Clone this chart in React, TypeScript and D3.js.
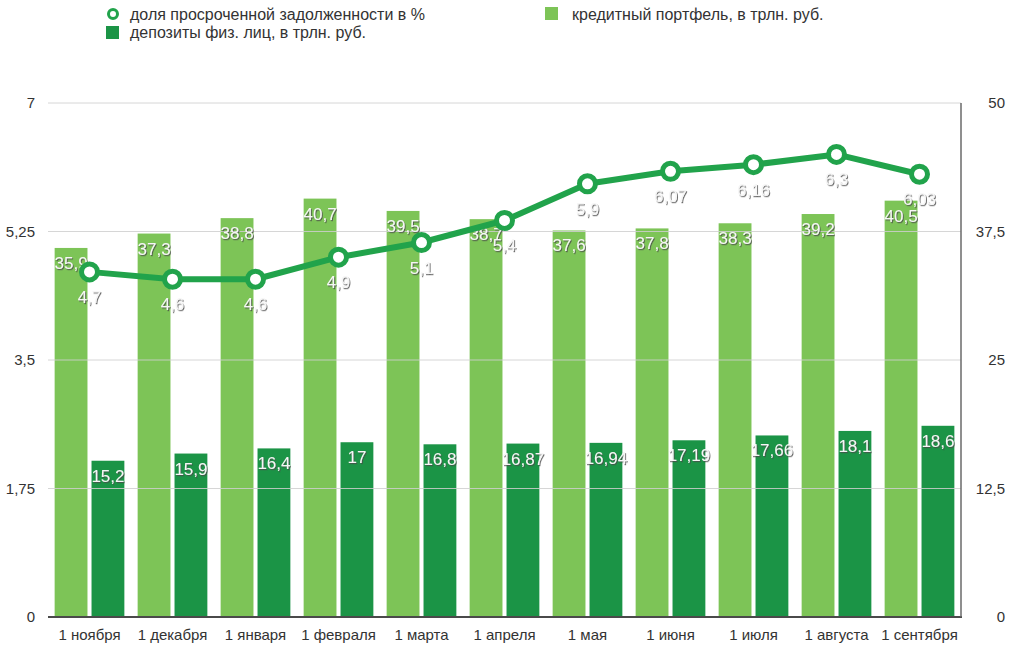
import { useMemo } from 'react';
import * as d3 from 'd3';

// Monthly figures, 1 Nov – 1 Sep
const months = [
  '1 ноября', '1 декабря', '1 января', '1 февраля', '1 марта', '1 апреля',
  '1 мая', '1 июня', '1 июля', '1 августа', '1 сентября',
];
const creditPortfolio = [35.9, 37.3, 38.8, 40.7, 39.5, 38.7, 37.6, 37.8, 38.3, 39.2, 40.5];
const deposits = [15.2, 15.9, 16.4, 17, 16.8, 16.87, 16.94, 17.19, 17.66, 18.1, 18.6];
const overdueShare = [4.7, 4.6, 4.6, 4.9, 5.1, 5.4, 5.9, 6.07, 6.16, 6.3, 6.03];

const leftTicks = [0, 1.75, 3.5, 5.25, 7];
const rightTicks = [0, 12.5, 25, 37.5, 50];

const LIGHT = '#7dc457';
const DARK = '#1b9446';
const LINE = '#21a34b';
const FONT = '"Liberation Sans", Arial, sans-serif';

const fmt = (v: number) => String(v).replace('.', ',');

export default function App() {
  const width = 1024;
  const height = 654;
  const left = 48;
  const right = 961;
  const top = 103;
  const bottom = 617;

  const x = useMemo(() => d3.scaleBand<string>().domain(months).range([left, right]), []);
  const sub = useMemo(
    () => d3.scaleBand<string>().domain(['credit', 'deposit']).range([0, x.bandwidth()])
      .paddingInner(0.11).paddingOuter(0.18),
    [x]
  );
  const yL = d3.scaleLinear().domain([0, 7]).range([bottom, top]);
  const yR = d3.scaleLinear().domain([0, 50]).range([bottom, top]);

  const line = d3.line<number>()
    .x((_, i) => (x(months[i]) as number) + x.bandwidth() / 2)
    .y(d => yL(d));

  const labelStyle = {
    fill: '#f6f6f6',
    fontSize: 17,
    fontFamily: FONT,
    filter: 'url(#emboss)',
  } as const;

  return (
    <svg width={width} height={height} style={{ position: 'absolute', left: 0, top: 0, background: '#fff' }}>
      <defs>
        <filter id="emboss" x="-20%" y="-20%" width="140%" height="140%">
          <feDropShadow dx="1" dy="1.2" stdDeviation="0.6" floodColor="#4a4a4a" floodOpacity="0.8" />
        </filter>
      </defs>

      {/* legend */}
      <g fontFamily={FONT} fontSize={16} fill="#333">
        <circle cx={113} cy={14} r={4.5} fill="#fff" stroke={LINE} strokeWidth={3} />
        <text x={130} y={20}>доля просроченной задолженности в %</text>
        <rect x={106} y={26} width={13} height={13} fill={DARK} />
        <text x={130} y={38}>депозиты физ. лиц, в трлн. руб.</text>
        <rect x={545} y={7} width={13} height={13} fill={LIGHT} />
        <text x={572} y={20}>кредитный портфель, в трлн. руб.</text>
      </g>

      {/* bars */}
      {months.map((m, i) => {
        const gx = x(m) as number;
        const cx = gx + (sub('credit') as number);
        const dx = gx + (sub('deposit') as number);
        return (
          <g key={m}>
            <rect x={cx} y={yR(creditPortfolio[i])} width={sub.bandwidth()}
              height={bottom - yR(creditPortfolio[i])} fill={LIGHT} />
            <rect x={dx} y={yR(deposits[i])} width={sub.bandwidth()}
              height={bottom - yR(deposits[i])} fill={DARK} />
          </g>
        );
      })}

      {/* grid */}
      {leftTicks.slice(1).map(t => (
        <line key={t} x1={left} x2={right} y1={yL(t)} y2={yL(t)} stroke="#cfcfcf" strokeWidth={1} opacity={0.85} />
      ))}
      <line x1={left} x2={right + 1} y1={bottom} y2={bottom} stroke="#4a4a4a" strokeWidth={2} />
      <line x1={right} x2={right} y1={top} y2={bottom} stroke="#6a6a6a" strokeWidth={1.5} />

      {/* axis labels */}
      <g fontFamily={FONT} fontSize={15} fill="#333">
        {leftTicks.map(t => (
          <text key={t} x={35} y={yL(t) + 5} textAnchor="end">{fmt(t)}</text>
        ))}
        {rightTicks.map(t => (
          <text key={t} x={1005} y={yR(t) + 5} textAnchor="end">{fmt(t)}</text>
        ))}
        {months.map(m => (
          <text key={m} x={(x(m) as number) + x.bandwidth() / 2} y={640} textAnchor="middle">{m}</text>
        ))}
      </g>

      {/* bar value labels */}
      {months.map((m, i) => {
        const gx = x(m) as number;
        const cx = gx + (sub('credit') as number) + sub.bandwidth() / 2;
        const dx = gx + (sub('deposit') as number) + sub.bandwidth() / 2;
        return (
          <g key={m} textAnchor="middle">
            <text x={cx} y={yR(creditPortfolio[i]) + 21} style={labelStyle}>{fmt(creditPortfolio[i])}</text>
            <text x={dx} y={yR(deposits[i]) + 21} style={labelStyle}>{fmt(deposits[i])}</text>
          </g>
        );
      })}

      {/* overdue share line */}
      <path d={line(overdueShare) || ''} fill="none" stroke={LINE} strokeWidth={6} strokeLinejoin="round" />
      {overdueShare.map((v, i) => (
        <circle key={i} cx={(x(months[i]) as number) + x.bandwidth() / 2} cy={yL(v)} r={8}
          fill="#fff" stroke={LINE} strokeWidth={5} />
      ))}
      {overdueShare.map((v, i) => (
        <text key={i} x={(x(months[i]) as number) + x.bandwidth() / 2} y={yL(v) + 31}
          textAnchor="middle" style={labelStyle}>{fmt(v)}</text>
      ))}
    </svg>
  );
}
